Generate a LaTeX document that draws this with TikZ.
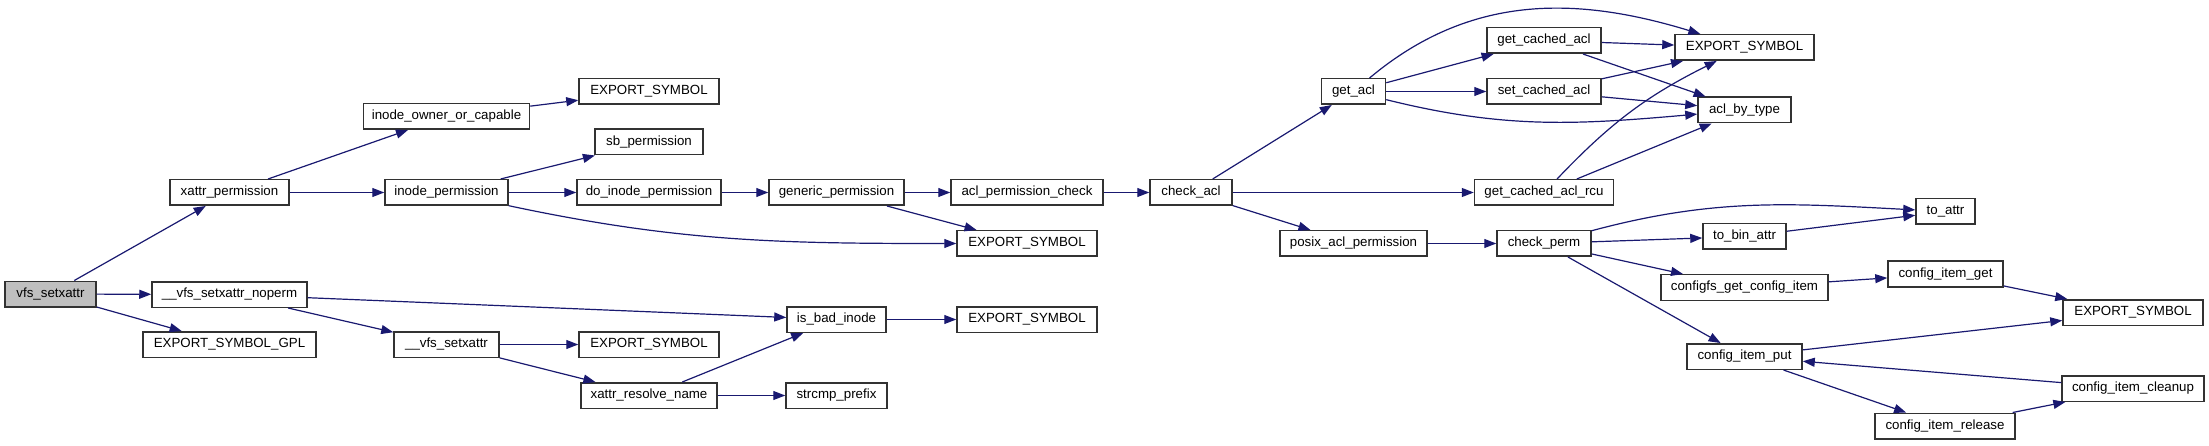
\documentclass[tikz,border=0pt]{standalone}
\usepackage{fontspec}
\setmainfont{Liberation Sans}
\usetikzlibrary{arrows.meta}

\definecolor{callblue}{RGB}{25,25,112}
\definecolor{boxgray}{RGB}{50,50,50}

\begin{document}
\begin{tikzpicture}[
    x=1pt, y=1pt,
    font=\fontsize{13.3}{15}\selectfont,
    fn/.style={draw=boxgray, line width=1.5pt, fill=white, minimum height=25.5pt,
               inner sep=0pt, text height=9.5pt, text depth=2.8pt},
    root/.style={fn, fill=black!25},
    call/.style={-{Triangle[length=12pt, width=9pt]}, line width=1.2pt, draw=callblue},
  ]
  \useasboundingbox (0,0) rectangle (2209,445);

  % Column x-positions (call depth from vfs_setxattr)
  \def\xA{50.5}   \def\xB{229.5}  \def\xC{446.5}  \def\xD{649}
  \def\xE{836.5}  \def\xF{1027}   \def\xG{1191}   \def\xH{1353.5}
  \def\xI{1544}   \def\xJ{1744.5} \def\xK{1945.5} \def\xL{2133}

  % Depth 0--2
  \node[root, minimum width=91]  (vfs)    at (\xA,151)   {vfs\_setxattr};
  \node[fn, minimum width=119]   (xperm)  at (\xB,252.5) {xattr\_permission};
  \node[fn, minimum width=155]   (noperm) at (\xB,150.5) {\_\_vfs\_setxattr\_noperm};
  \node[fn, minimum width=173]   (gpl)    at (\xB,100.5) {EXPORT\_SYMBOL\_GPL};
  \node[fn, minimum width=166]   (owner)  at (\xC,328.5) {inode\_owner\_or\_capable};
  \node[fn, minimum width=123]   (iperm)  at (\xC,252.5) {inode\_permission};
  \node[fn, minimum width=105]   (vsx)    at (\xC,100.5) {\_\_vfs\_setxattr};

  % Depth 3--4
  \node[fn, minimum width=140]   (es1)    at (\xD,353.5) {EXPORT\_SYMBOL};
  \node[fn, minimum width=108]   (sbperm) at (\xD,303)   {sb\_permission};
  \node[fn, minimum width=144]   (doip)   at (\xD,252.5) {do\_inode\_permission};
  \node[fn, minimum width=140]   (es3)    at (\xD,100.5) {EXPORT\_SYMBOL};
  \node[fn, minimum width=136]   (resolve) at (\xD,49.5) {xattr\_resolve\_name};
  \node[fn, minimum width=135]   (generic) at (\xE,252.5) {generic\_permission};
  \node[fn, minimum width=99]    (badinode) at (\xE,125.5) {is\_bad\_inode};
  \node[fn, minimum width=101]   (strcmp) at (\xE,49.5)  {strcmp\_prefix};

  % Depth 5--7
  \node[fn, minimum width=152]   (aclcheck) at (\xF,252.5) {acl\_permission\_check};
  \node[fn, minimum width=140]   (es2)    at (\xF,201.5) {EXPORT\_SYMBOL};
  \node[fn, minimum width=140]   (es4)    at (\xF,125.5) {EXPORT\_SYMBOL};
  \node[fn, minimum width=82]    (checkacl) at (\xG,252.5) {check\_acl};
  \node[fn, minimum width=64]    (getacl) at (\xH,353.5) {get\_acl};
  \node[fn, minimum width=147]   (posix)  at (\xH,201.5) {posix\_acl\_permission};

  % Depth 8--9
  \node[fn, minimum width=114]   (getcached) at (\xI,404.5) {get\_cached\_acl};
  \node[fn, minimum width=114]   (setcached) at (\xI,353.5) {set\_cached\_acl};
  \node[fn, minimum width=139]   (rcu)    at (\xI,252.5) {get\_cached\_acl\_rcu};
  \node[fn, minimum width=94]    (checkperm) at (\xI,201.5) {check\_perm};
  \node[fn, minimum width=139]   (es5)    at (\xJ,397.5) {EXPORT\_SYMBOL};
  \node[fn, minimum width=93]    (aclbytype) at (\xJ,335) {acl\_by\_type};
  \node[fn, minimum width=83]    (tobin)  at (\xJ,208.5) {to\_bin\_attr};
  \node[fn, minimum width=167]   (cfsget) at (\xJ,157.5) {configfs\_get\_config\_item};
  \node[fn, minimum width=115]   (cput)   at (\xJ,88.5)  {config\_item\_put};

  % Depth 10--11
  \node[fn, minimum width=59]    (toattr) at (\xK,233.5) {to\_attr};
  \node[fn, minimum width=115]   (cget)   at (\xK,171)   {config\_item\_get};
  \node[fn, minimum width=140]   (crelease) at (1945,19) {config\_item\_release};
  \node[fn, minimum width=140]   (es6)    at (\xL,132.5) {EXPORT\_SYMBOL};
  \node[fn, minimum width=142]   (ccleanup) at (\xL,56.5) {config\_item\_cleanup};

  % Straight calls
  \foreach \a/\b in {vfs/xperm, vfs/noperm, vfs/gpl, xperm/owner, xperm/iperm,
                     owner/es1, iperm/sbperm, iperm/doip, doip/generic,
                     generic/aclcheck, generic/es2, aclcheck/checkacl,
                     checkacl/getacl, checkacl/rcu, checkacl/posix,
                     getacl/getcached, getacl/setcached, getcached/es5,
                     getcached/aclbytype, setcached/es5, setcached/aclbytype,
                     rcu/aclbytype, posix/checkperm, checkperm/tobin,
                     checkperm/cfsget, checkperm/cput, tobin/toattr,
                     cfsget/cget, cget/es6, cput/es6, cput/crelease,
                     crelease/ccleanup, ccleanup/cput, noperm/badinode,
                     noperm/vsx, vsx/es3, vsx/resolve, resolve/badinode,
                     resolve/strcmp, badinode/es4}
    \draw[call] (\a) -- (\b);

  % Curved calls
  \draw[call] (iperm) to[out=-12, in=180] (es2);
  \draw[call] (getacl) to[out=40, in=163] (es5);
  \draw[call] (getacl) to[out=-14, in=185] (aclbytype);
  \draw[call] (rcu) to[bend left=10] (es5);
  \draw[call] (checkperm) to[out=15, in=177] (toattr);

\end{tikzpicture}
\end{document}
